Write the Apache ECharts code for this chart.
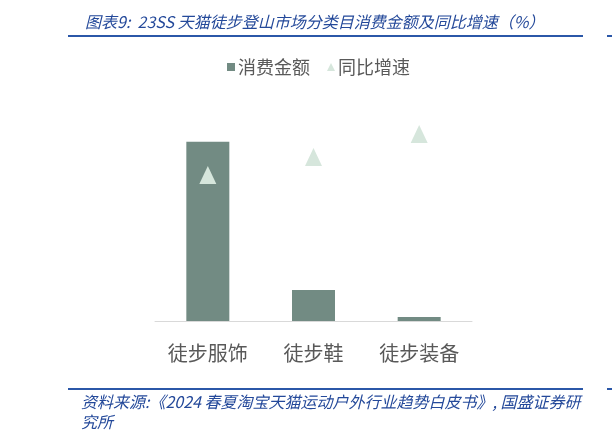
<!DOCTYPE html>
<html>
<head>
<meta charset="utf-8">
<script src="https://cdn.jsdelivr.net/npm/echarts@6/dist/echarts.min.js"></script>
<style>html,body{margin:0;padding:0;background:#fff;}#c{width:612px;height:442px;}</style>
</head>
<body>
<div id="c"></div>
<script>
var categories = ['徒步服饰', '徒步鞋', '徒步装备'];
var amountValues = [85, 14.7, 1.9];
var growthValues = [69.2, 77.7, 88.6];
var seriesNames = ['消费金额', '同比增速'];
var titleText = '图表9:  23SS 天猫徒步登山市场分类目消费金额及同比增速（%）';
var sourceText = '资料来源:《2024 春夏淘宝天猫运动户外行业趋势白皮书》, 国盛证券研\n究所';

var chart = echarts.init(document.getElementById('c'));
var blue = '#2B57A8';
chart.setOption({
  animation: false,
  title: {
    text: titleText,
    left: 80, top: 9,
    textStyle: { fontSize: 16, fontStyle: 'italic', fontWeight: 'normal', color: '#24499A', fontFamily: 'Noto Sans CJK SC' }
  },
  legend: {
    left: 222, top: 53,
    itemWidth: 8, itemHeight: 8, itemGap: 17,
    textStyle: { fontSize: 18, color: '#595959', fontFamily: 'Noto Sans CJK SC', padding: [0, 0, 0, -2] },
    data: [
      { name: seriesNames[0], icon: 'rect' },
      { name: seriesNames[1], icon: 'triangle' }
    ]
  },
  grid: { left: 155, right: 140, top: 110, bottom: 121 },
  xAxis: {
    type: 'category',
    data: categories,
    axisLine: { lineStyle: { color: '#D9D9D9', width: 1 } },
    axisTick: { show: false },
    axisLabel: { fontSize: 20, color: '#595959', margin: 22, fontFamily: 'Noto Sans CJK SC' }
  },
  yAxis: [
    { type: 'value', min: 0, max: 100, show: false },
    { type: 'value', min: 0, max: 100, show: false }
  ],
  series: [
    {
      name: seriesNames[0], type: 'bar', yAxisIndex: 0,
      data: amountValues, barWidth: 43,
      itemStyle: { color: '#728B83' }
    },
    {
      name: seriesNames[1], type: 'scatter', yAxisIndex: 1,
      data: growthValues, symbol: 'triangle', symbolSize: [17, 18],
      itemStyle: { color: '#D6E6DC', opacity: 1 }
    }
  ],
  graphic: [
    { type: 'rect', shape: { x: 68, y: 35, width: 515, height: 2 }, style: { fill: blue } },
    { type: 'rect', shape: { x: 607, y: 35, width: 5, height: 2 }, style: { fill: blue } },
    { type: 'rect', shape: { x: 68, y: 388, width: 515, height: 2 }, style: { fill: blue } },
    { type: 'rect', shape: { x: 607, y: 388, width: 5, height: 2 }, style: { fill: blue } },
    {
      type: 'text', left: 81, top: 392,
      style: { text: sourceText, fontSize: 16, lineHeight: 20, fontStyle: 'italic', fill: '#24499A', fontFamily: 'Noto Sans CJK SC' }
    }
  ]
});
</script>
</body>
</html>
